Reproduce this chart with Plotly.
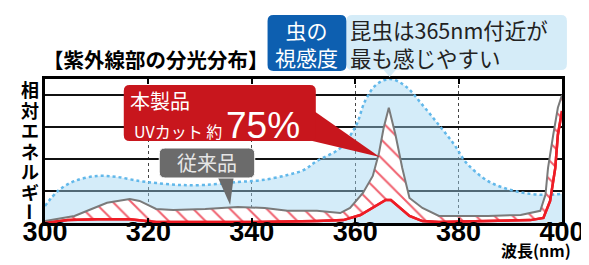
import plotly.graph_objects as go

# ---- data ----
wl_insect = [300, 302.5, 305.7, 310.1, 313.9, 318.3, 321.5, 325.9, 331, 337.3, 341.9, 346.9, 350.1,
             352.6, 357.1, 360.2, 361.9, 364, 366.7, 369.7, 373, 376.2, 379.2, 381.5, 385.7, 390.1,
             393.9, 397.1, 400]
insect = [0.53, 1.0, 1.31, 1.47, 1.44, 1.31, 1.25, 1.19, 1.19, 1.28, 1.34, 1.5, 1.66,
          1.94, 2.34, 3.06, 3.81, 4.31, 4.5, 4.28, 3.69, 3.06, 2.44, 1.88, 1.31, 1.03,
          0.91, 0.88, 0.91]

wl_old = [300, 305.7, 309.5, 312.0, 316.4, 318.3, 321.5, 324.8, 331.0, 337.3, 342.5, 346.9, 352.6,
          357.1, 359.0, 361.5, 363.4, 364.6, 365.5, 366.5, 367.8, 369.1, 370.5, 373.0, 376.2,
          379.2, 385.7, 392.0, 395.8, 396.8, 397.3, 398.3, 399.2, 400]
old = [0.06, 0.22, 0.47, 0.63, 0.75, 0.69, 0.44, 0.41, 0.44, 0.5, 0.47, 0.38, 0.38,
       0.31, 0.47, 0.94, 1.47, 2.19, 2.97, 3.6, 2.75, 1.72, 0.78, 0.47, 0.22,
       0.22, 0.22, 0.25, 0.38, 0.88, 1.72, 2.75, 3.6, 4.0]

wl_new = [300, 304.4, 310.1, 316.4, 321.5, 340.6, 352.6, 357.7, 361.0, 363.4, 365.9, 366.9,
          368.6, 370.5, 373.0, 376.2, 393.9, 396.4, 397.7, 398.7, 399.2, 400]
new = [0.0, 0.09, 0.12, 0.12, 0.03, 0.03, 0.06, 0.09, 0.25, 0.47, 0.72, 0.72,
       0.47, 0.22, 0.06, 0.03, 0.09, 0.16, 0.69, 1.72, 2.75, 3.5]

x_ticks = [300, 320, 340, 360, 380, 400]
y_title_chars = ["相", "対", "エ", "ネ", "ル", "ギ", "ー"]

W, H = 589, 265
L, R, T, B = 37, 27, 71, 50
PW, PH = W - L - R, H - T - B


def P(px, py):
    return (px - L) / PW, (H - B - py) / PH


def rrect(x0, y0, x1, y1, r):
    def p(px, py):
        a, b = P(px, py)
        return f"{a:.5f},{b:.5f}"
    return (f"M{p(x0 + r, y0)} L{p(x1 - r, y0)} Q{p(x1, y0)} {p(x1, y0 + r)} "
            f"L{p(x1, y1 - r)} Q{p(x1, y1)} {p(x1 - r, y1)} L{p(x0 + r, y1)} "
            f"Q{p(x0, y1)} {p(x0, y1 - r)} L{p(x0, y0 + r)} Q{p(x0, y0)} {p(x0 + r, y0)} Z")


def tri(a, b, c):
    def p(pt):
        u, v = P(*pt)
        return f"{u:.5f},{v:.5f}"
    return f"M{p(a)} L{p(b)} L{p(c)} Z"


fig = go.Figure()
fig.add_trace(go.Scatter(x=wl_insect, y=insect, mode="lines", fill="tozeroy",
                         fillcolor="rgba(160,212,242,0.45)",
                         line=dict(color="#62b8ea", width=2.5, dash="dot", shape="spline"),
                         hoverinfo="skip"))
fig.add_trace(go.Scatter(x=wl_new, y=new, mode="lines",
                         line=dict(color="#ee1c25", width=2.5), hoverinfo="skip"))
fig.add_trace(go.Scatter(x=wl_old, y=old, mode="lines", fill="tonexty",
                         fillpattern=dict(shape="\\", fgcolor="#f0606e", bgcolor="white",
                                          size=13, solidity=0.15, fillmode="replace"),
                         line=dict(color="#7a7a7a", width=2), hoverinfo="skip"))
fig.add_trace(go.Scatter(x=wl_new, y=new, mode="lines",
                         line=dict(color="#ee1c25", width=2.5), hoverinfo="skip"))

shapes = []
# red callout
shapes.append(dict(type="path", xref="paper", yref="paper", path=tri((300, 96), (300, 131), (377, 149)),
                   fillcolor="#c8161d", line=dict(width=0), layer="above"))
shapes.append(dict(type="path", xref="paper", yref="paper", path=rrect(117, 77, 312, 133, 6),
                   fillcolor="#c8161d", line=dict(width=0), layer="above"))
# gray callout
shapes.append(dict(type="path", xref="paper", yref="paper", path=tri((211, 166), (229, 166), (225, 197)),
                   fillcolor="#6b6b6b", line=dict(width=0), layer="above"))
shapes.append(dict(type="path", xref="paper", yref="paper", path=rrect(153, 140, 250, 170, 6),
                   fillcolor="#6b6b6b", line=dict(color="white", width=1), layer="above"))
# insect sensitivity boxes
shapes.append(dict(type="path", xref="paper", yref="paper", path=rrect(343, 7, 567, 62, 6),
                   fillcolor="#d5ecf8", line=dict(width=0), layer="above"))
shapes.append(dict(type="path", xref="paper", yref="paper", path=tri((380, 61), (394, 61), (387, 69)),
                   fillcolor="#d5ecf8", line=dict(width=0), layer="above"))
shapes.append(dict(type="path", xref="paper", yref="paper", path=rrect(263, 7, 343, 63, 6),
                   fillcolor="#0d5fb0", line=dict(width=0), layer="above"))
fig.update_layout(shapes=shapes)

ann = []


def A(text, px, py, size, color="black", xanchor="center", weight="normal", family="Noto Sans CJK JP",
      align="center", angle=0, yanchor="middle"):
    x, y = P(px, py)
    ann.append(dict(text=text, x=x, y=y, xref="paper", yref="paper", showarrow=False,
                    xanchor=xanchor, yanchor=yanchor, align=align, textangle=angle,
                    font=dict(size=size, color=color, family=family, weight=weight)))


A("【紫外線部の分光分布】", 33, 51, 20.5, weight="bold", xanchor="left")
for i, ch in enumerate(y_title_chars):
    A(ch, 22, 81 + i * 20.5, 18, weight="bold", angle=90 if ch == "ー" else 0)
A("虫の<br>視感度", 303, 35, 21, color="white")
A("昆虫は365nm付近が<br>最も感じやすい", 345, 35, 21.5, color="#222", xanchor="left", align="left")
A("本製品", 121, 92, 20, color="white", xanchor="left")
A("UVカット 約", 125, 123, 16, color="white", xanchor="left")
A("75%", 219, 117, 37, color="white", xanchor="left", family="Liberation Sans")
A("従来品", 201, 154, 20, color="#e6e6e6")
A("波長(nm)", 498, 242, 16, weight="bold", xanchor="left", yanchor="middle")
fig.update_layout(annotations=ann)

fig.update_layout(
    width=W, height=H, margin=dict(l=L, r=R, t=T, b=B),
    paper_bgcolor="white", plot_bgcolor="white", showlegend=False,
    xaxis=dict(range=[300, 400], tickvals=x_ticks, ticktext=[str(v) for v in x_ticks],
               showgrid=True, gridcolor="#444", gridwidth=1, griddash="dot",
               showline=True, linecolor="black", linewidth=2.5, mirror="ticks",
               ticks="inside", ticklen=5, tickwidth=2, tickcolor="black",
               ticklabelstandoff=-17,
               tickfont=dict(family="Liberation Sans", size=27, color="black", weight="bold"),
               zeroline=False, fixedrange=True),
    yaxis=dict(range=[0, 4.5], dtick=1, showticklabels=False,
               showgrid=True, gridcolor="#111", gridwidth=1.5,
               showline=True, linecolor="black", linewidth=2.5, mirror=True,
               zeroline=False, fixedrange=True),
)

fig.write_html("out.html")
